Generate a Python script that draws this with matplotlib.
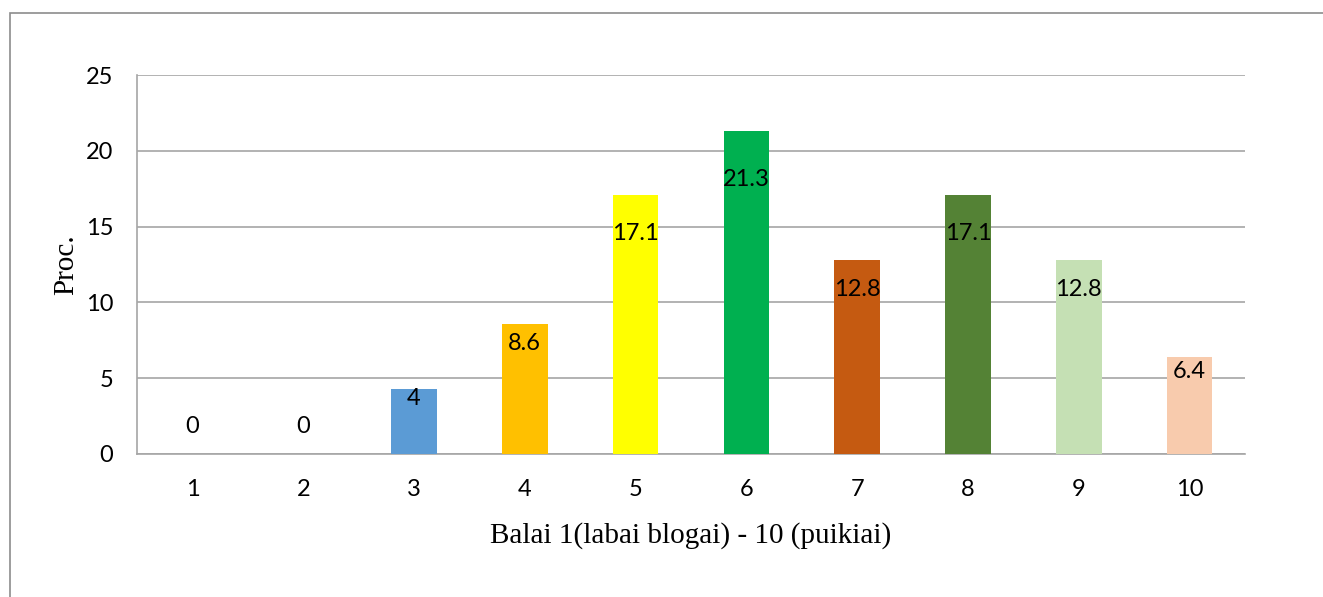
import numpy as np
import matplotlib.pyplot as plt
from matplotlib.patches import Rectangle

categories = ['1', '2', '3', '4', '5', '6', '7', '8', '9', '10']
values = [0, 0, 4.3, 8.6, 17.1, 21.3, 12.8, 17.1, 12.8, 6.4]
labels = ['0', '0', '4', '8.6', '17.1', '21.3', '12.8', '17.1', '12.8', '6.4']
colors = ['#5B9BD5', '#ED7D31', '#5B9BD5', '#FFC000', '#FFFF00', '#00B050',
          '#C55A11', '#548235', '#C5E0B4', '#F8CBAD']

fig = plt.figure(figsize=(13.23, 5.97), dpi=100)
ax = fig.add_axes([137 / 1323, 1 - 454 / 597, (1245 - 137) / 1323, (454 - 75) / 597])

# outer chart border (only left and top visible)
fig.patches.append(Rectangle((10 / 1323, -0.1), 1.2, 1 - 13 / 597 + 0.1,
                             transform=fig.transFigure, fill=False,
                             edgecolor='#8c8c8c', linewidth=1.2))

x = np.arange(len(categories))
ax.bar(x, values, width=0.41, color=colors, zorder=3)

for xi, v, lab in zip(x, values, labels):
    ax.text(xi, max(v * 0.85, 1.8), lab, ha='center', va='center',
            fontsize=17, family='Lato', color='black', zorder=4)

ax.set_xlim(-0.5, len(categories) - 0.5)
ax.set_ylim(0, 25)
ax.set_yticks(range(0, 26, 5))
ax.set_xticks(x)
ax.set_xticklabels(categories)
ax.grid(axis='y', color='#a6a6a6', linewidth=1.2, zorder=0)
ax.tick_params(length=0, labelsize=17)
ax.tick_params(axis='x', pad=18)
ax.tick_params(axis='y', pad=17)
for t in ax.get_xticklabels() + ax.get_yticklabels():
    t.set_family('Lato')

for s in ['top', 'right']:
    ax.spines[s].set_visible(False)
for s in ['left', 'bottom']:
    ax.spines[s].set_color('#a6a6a6')
    ax.spines[s].set_linewidth(1.2)

ax.set_xlabel('Balai 1(labai blogai) - 10 (puikiai)', family='Liberation Serif',
              fontsize=21, labelpad=16)
ax.set_ylabel('Proc.', family='Liberation Serif', fontsize=21, labelpad=5)

fig.savefig('out.png', dpi=100)
